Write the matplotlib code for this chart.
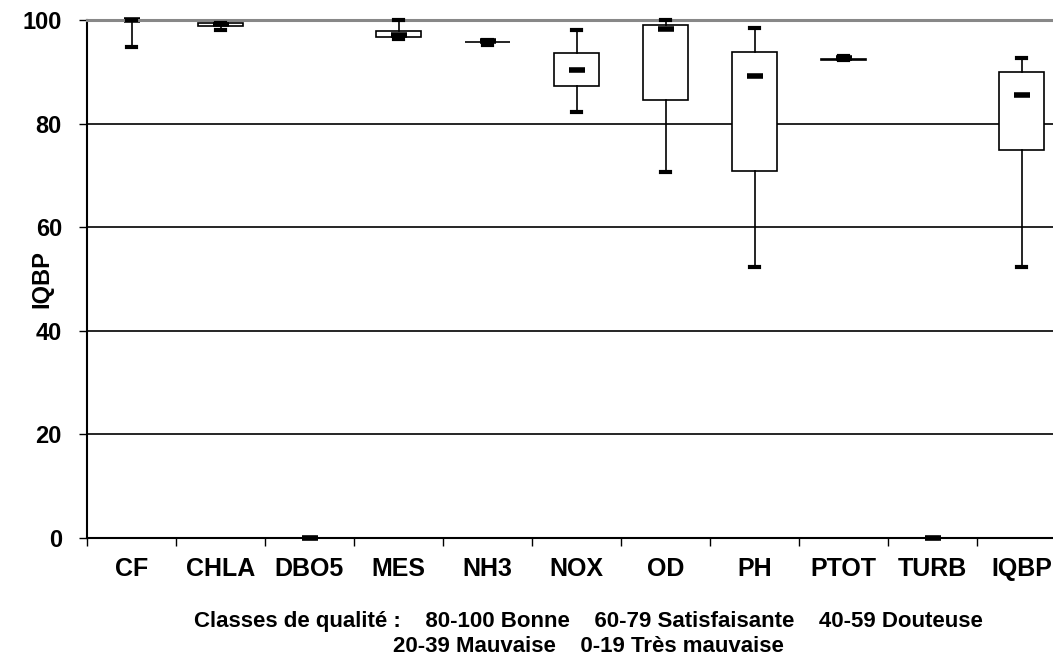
import matplotlib
matplotlib.use("Agg")
import matplotlib.pyplot as plt

# ============================== DATA ==============================
categories = ["CF", "CHLA", "DBO5", "MES", "NH3", "NOX", "OD", "PH", "PTOT", "TURB", "IQBP"]
v_min = [94.7, 98.1, 0.0, 96.3, 95.1, 82.2, 70.7, 52.4, 92.3, 0.0, 52.4]
v_q1 = [100.0, 98.9, 0.0, 96.8, 95.7, 87.3, 84.6, 70.8, 92.3, 0.0, 75.0]
v_med = [100.0, 99.2, 0.0, 97.2, 96.0, 90.3, 98.3, 89.2, 92.7, 0.0, 85.5]
v_q3 = [100.0, 99.4, 0.0, 97.9, 95.8, 93.6, 99.1, 93.8, 92.5, 0.0, 89.9]
v_max = [100.0, 99.4, 0.0, 100.0, 96.1, 98.0, 100.0, 98.5, 93.0, 0.0, 92.7]

yticks = [0, 20, 40, 60, 80, 100]
footnote_1 = "Classes de qualité :    80-100 Bonne    60-79 Satisfaisante    40-59 Douteuse"
footnote_2 = "20-39 Mauvaise    0-19 Très mauvaise"

# ============================== FIGURE ==============================
plt.rcParams['font.family'] = ['Liberation Sans', 'DejaVu Sans']
fig = plt.figure(figsize=(10.53, 6.59), dpi=100)
ax = fig.add_axes([87 / 1053, 1 - 538 / 659, 979 / 1053, 518 / 659])

stats = []
for i, name in enumerate(categories):
    stats.append({"label": name, "whislo": v_min[i], "q1": v_q1[i], "med": v_med[i],
                  "q3": v_q3[i], "whishi": v_max[i]})

positions = list(range(len(categories)))
ax.bxp(stats, positions=positions, widths=0.5, capwidths=0.1, showfliers=False,
       patch_artist=True,
       boxprops=dict(facecolor="white", edgecolor="black", linewidth=1.2, clip_on=False),
       whiskerprops=dict(color="black", linewidth=1.2),
       capprops=dict(color="black", linewidth=3, zorder=6, clip_on=False),
       medianprops=dict(visible=False), zorder=3)

# median shown as a short thick dash
ax.plot(positions, v_med, linestyle="none", marker="_", markersize=11, mew=4,
        color="black", zorder=4, clip_on=False)

ax.set_xlim(-0.5, len(categories) - 0.5)
ax.set_ylim(0, 100)
ax.set_yticks(yticks)
ax.set_xticks(positions)
ax.set_xticklabels(categories)
ax.set_xticks([p - 0.5 for p in positions] + [len(categories) - 0.5], minor=True)
ax.tick_params(axis="x", which="major", length=0, pad=14, labelsize=18)
ax.tick_params(axis="x", which="minor", length=6, width=1, direction="out")
ax.tick_params(axis="y", length=6, width=1, direction="out", pad=12, labelsize=17)
for lab in ax.get_xticklabels() + ax.get_yticklabels():
    lab.set_fontweight("bold")

ax.yaxis.grid(True, color="black", linewidth=1.2)
ax.set_axisbelow(True)
ax.get_ygridlines()[-1].set_visible(False)
# top border line in gray, drawn above the flat boxes
ax.axhline(yticks[-1], color="#888888", linewidth=2.2, zorder=5, clip_on=False)

for side in ["top", "right"]:
    ax.spines[side].set_visible(False)
ax.spines["left"].set_linewidth(1.5)
ax.spines["bottom"].set_linewidth(1.5)

ax.set_ylabel("IQBP", fontsize=17, fontweight="bold", labelpad=-22)

fig.text(588 / 1053, 1 - 621 / 659, footnote_1, ha="center", va="center",
         fontsize=16, fontweight="bold")
fig.text(588 / 1053, 1 - 647 / 659, footnote_2, ha="center", va="center",
         fontsize=16, fontweight="bold")

fig.savefig("out.png", dpi=100, facecolor="white")
